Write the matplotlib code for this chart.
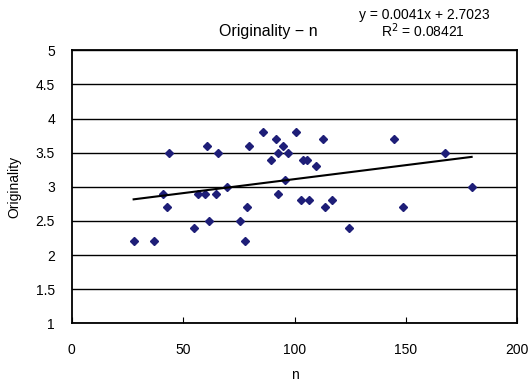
import numpy as np
import matplotlib
matplotlib.use('Agg')
import matplotlib.pyplot as plt

plt.rcParams['font.family'] = ['Liberation Sans', 'DejaVu Sans']

# values
n_vals = [27.8, 37.1, 40.8, 42.6, 43.8, 54.9, 56.8, 59.8, 60.9, 61.8,
          64.8, 65.8, 69.8, 75.7, 77.9, 78.8, 79.7, 85.7, 89.5, 91.7,
          92.7, 92.7, 94.7, 95.7, 96.9, 100.7, 112.7, 103.7, 105.7, 109.6,
          102.8, 106.6, 116.7, 113.7, 124.6, 144.7, 148.6, 167.5, 179.5]
orig_vals = [2.2, 2.2, 2.9, 2.7, 3.5, 2.4, 2.9, 2.9, 3.6, 2.5,
             2.9, 3.5, 3.0, 2.5, 2.2, 2.7, 3.6, 3.8, 3.4, 3.7,
             2.9, 3.5, 3.6, 3.1, 3.5, 3.8, 3.7, 3.4, 3.4, 3.3,
             2.8, 2.8, 2.8, 2.7, 2.4, 3.7, 2.7, 3.5, 3.0]
slope = 0.0041
intercept = 2.7023
r2 = 0.08421
x_ticks = [0, 50, 100, 150, 200]
y_ticks = [1, 1.5, 2, 2.5, 3, 3.5, 4, 4.5, 5]

W, H = 531, 389
fig = plt.figure(figsize=(W / 100, H / 100), dpi=100)
ax = fig.add_axes([71.7 / W, 1 - 323.3 / H, (517.3 - 71.7) / W, (323.3 - 50.3) / H])

ax.set_xlim(0, 200)
ax.set_ylim(1, 5)
ax.set_xticks(x_ticks)
ax.set_yticks(y_ticks)
ax.set_yticklabels([f'{v:g}' for v in y_ticks])
ax.grid(axis='y', color='black', linewidth=1.0)
ax.set_axisbelow(True)
for s in ax.spines.values():
    s.set_linewidth(1.3)
ax.tick_params(axis='x', direction='in', length=4, pad=14, labelsize=10)
ax.tick_params(axis='y', length=0, pad=12, labelsize=10)

ax.plot(n_vals, orig_vals, linestyle='none', marker='D', markersize=4.5,
        color='#1e1e78', zorder=3)

# trendline over the data range
xs = np.array([min(n_vals), max(n_vals)])
ax.plot(xs, slope * xs + intercept, color='black', linewidth=1.5, zorder=4)

ax.set_xlabel('n', fontsize=10, labelpad=8)
ax.set_ylabel('Originality', fontsize=10, labelpad=10)

fig.text(268 / W, 1 - 31.5 / H, 'Originality \u2212 n', ha='center', va='center', fontsize=11.5)
fig.text(424 / W, 1 - 15 / H, f'y = {slope}x + {intercept}', ha='center', va='center', fontsize=10)
fig.text(423 / W, 1 - 31 / H, f'R$^{{2}}$ = {r2}', ha='center', va='center', fontsize=10)

fig.savefig('out.png', dpi=100)
